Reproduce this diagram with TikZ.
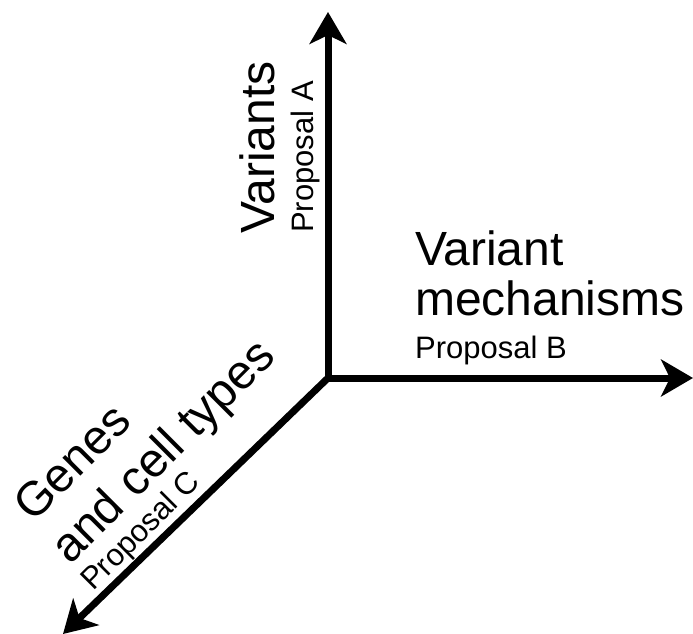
\documentclass[tikz,border=0pt]{standalone}
\usepackage{fontspec}
\setmainfont{Liberation Sans}
\usetikzlibrary{arrows.meta,positioning}

\begin{document}
\begin{tikzpicture}[
  x=1pt, y=-1pt,
  axis/.style={line width=7pt, >={Stealth[length=32pt, width=37pt, inset=9pt]}},
  biglabel/.style={font=\fontsize{48}{56}\selectfont, inner sep=0pt},
  smalllabel/.style={font=\fontsize{31}{37}\selectfont, inner sep=0pt}
]
\useasboundingbox (0,0) rectangle (693,634);

% Axes
\coordinate (origin) at (328,378);
\coordinate (topend) at (328,12);
\coordinate (rightend) at (693,378);
\coordinate (leftend) at (63,634);

\draw[axis, <->] (topend) |- (rightend);
\draw[axis, ->] (origin) -- (leftend);

% Vertical axis
\node[biglabel, rotate=90, anchor=base west] (variants) at (274,234) {Variants};
\node[smalllabel, rotate=90, anchor=base west] (propA) at (313,233) {Proposal A};

% Horizontal axis
\node[biglabel, anchor=base west] (variant) at (415,265) {Variant};
\node[biglabel, anchor=base west] (mech) at (415,315) {mechanisms};
\node[smalllabel, anchor=base west] (propB) at (415,358) {Proposal B};

% Diagonal axis
\node[biglabel, rotate=45, anchor=base west] (genes) at (33,524) {Genes};
\node[biglabel, rotate=45, anchor=base west] (cells) at (70,566) {and cell types};
\node[smalllabel, rotate=45, anchor=base west] (propC) at (93,592) {Proposal C};

\end{tikzpicture}
\end{document}
